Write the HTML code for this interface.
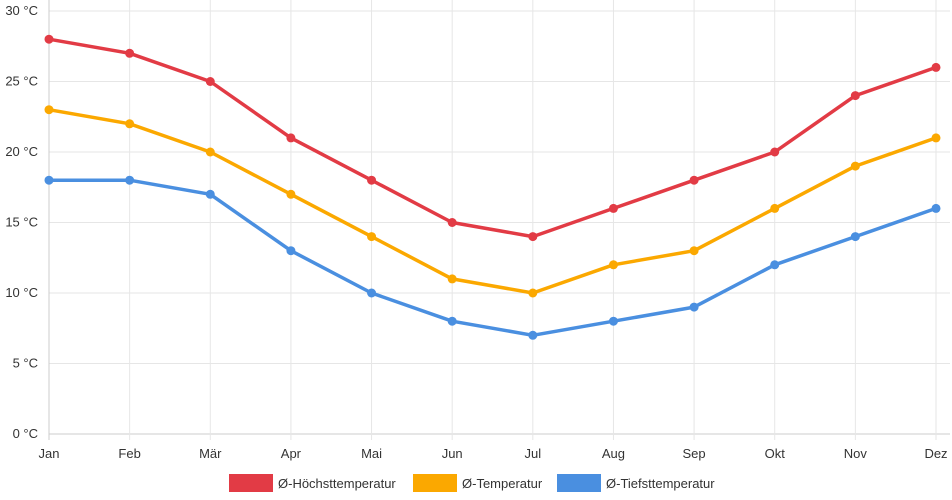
<!DOCTYPE html>
<html><head><meta charset="utf-8">
<style>
html,body{margin:0;padding:0;background:#fff;}
svg{display:block;font-family:"Liberation Sans",sans-serif;}
</style></head>
<body>
<svg id="chart" width="952" height="500" viewBox="0 0 952 500" xmlns="http://www.w3.org/2000/svg">
<g id="grid"></g>
<g id="yaxis"></g>
<g id="xaxis"></g>
<g id="series"></g>
<g id="legend"></g>
</svg>
<script>
const months = ["Jan","Feb","Mär","Apr","Mai","Jun","Jul","Aug","Sep","Okt","Nov","Dez"];
const highTemps = [28,27,25,21,18,15,14,16,18,20,24,26];
const meanTemps = [23,22,20,17,14,11,10,12,13,16,19,21];
const lowTemps = [18,18,17,13,10,8,7,8,9,12,14,16];
const yTicks = [0,5,10,15,20,25,30];
const seriesNames = ["Ø-Höchsttemperatur","Ø-Temperatur","Ø-Tiefsttemperatur"];
const seriesColors = ["#e23b45","#fba800","#4a8fe0"];

const NS="http://www.w3.org/2000/svg";
const x0=49,x1=936,yTop=11,yBot=434,yMax=30;
const xs=i=>x0+(x1-x0)*i/(months.length-1);
const ys=v=>yBot-(yBot-yTop)*v/yMax;
function mk(tag,attrs,parent){const e=document.createElementNS(NS,tag);for(const k in attrs)e.setAttribute(k,attrs[k]);parent.appendChild(e);return e;}
const grid=document.getElementById('grid'),ya=document.getElementById('yaxis'),xa=document.getElementById('xaxis'),sg=document.getElementById('series'),lg=document.getElementById('legend');

yTicks.forEach(t=>{
  const l=mk('line',{x1:x0,x2:x1+14,y1:ys(t),y2:ys(t),stroke:t===0?'#ccc':'#e6e6e6','stroke-width':1},grid);
  
  
  const tx=mk('text',{x:38,y:ys(t)+4,'text-anchor':'end','font-size':13,fill:'#333'},ya);
  tx.textContent=t+' °C';
  
  
});
months.forEach((m,i)=>{
  const l=mk('line',{x1:xs(i),x2:xs(i),y1:yTop-11,y2:yBot+6,stroke:i===0?'#ccc':'#e6e6e6','stroke-width':1},grid);
  
  
  const tx=mk('text',{x:xs(i),y:458,'text-anchor':'middle','font-size':13,fill:'#333'},xa);
  tx.textContent=m;
  
  
});
[highTemps,meanTemps,lowTemps].forEach((arr,si)=>{
  const g=mk('g',{},sg);
  
  
  const p=mk('polyline',{points:arr.map((v,i)=>xs(i)+','+ys(v)).join(' '),fill:'none',stroke:seriesColors[si],'stroke-width':3.5,'stroke-linejoin':'round'},g);
  
  
  arr.forEach((v,i)=>{
    const c=mk('circle',{cx:xs(i),cy:ys(v),r:4.5,fill:seriesColors[si]},g);
    
    
  });
});
const legX=[229,413,557];
seriesNames.forEach((n,i)=>{
  const g=mk('g',{},lg);
  
  
  mk('rect',{x:legX[i],y:474,width:44,height:18,fill:seriesColors[i]},g);
  const t=mk('text',{x:legX[i]+49,y:488,'font-size':13,fill:'#333'},g);
  t.textContent=n;
});
</script>
</body></html>
